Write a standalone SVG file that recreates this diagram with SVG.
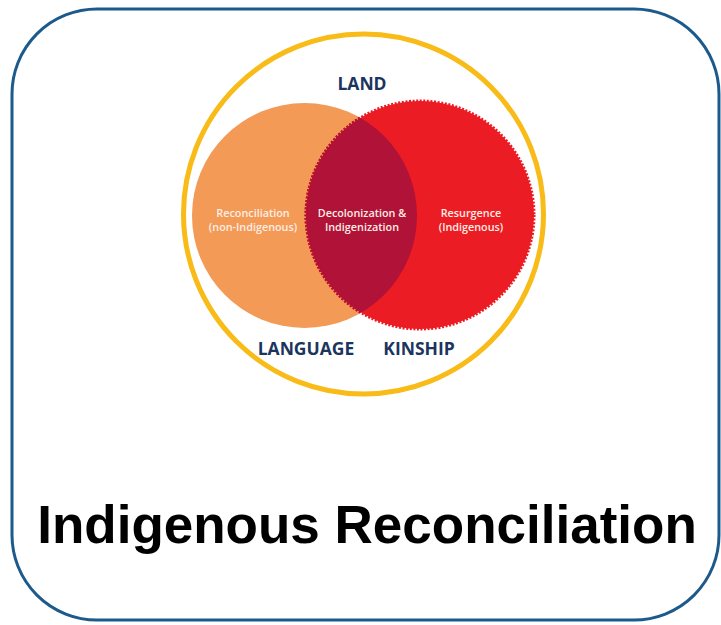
<svg xmlns="http://www.w3.org/2000/svg" width="721" height="625" viewBox="0 0 721 625">
<style>
.lab{font-family:"Open Sans","Liberation Sans",sans-serif;font-weight:700;fill:#1b355e;text-anchor:middle;font-size:17.5px}
.in{font-family:"Open Sans","Liberation Sans",sans-serif;font-weight:600;fill:#fdeee6;text-anchor:middle;font-size:10.8px}
.title{font-family:"Liberation Sans",Arial,sans-serif;font-weight:700;fill:#000;text-anchor:middle;font-size:53px}
</style>
<defs>
<clipPath id="orangeClip"><circle cx="304.5" cy="215.5" r="112.5"/></clipPath>
</defs>
<rect x="12" y="9" width="707" height="611" rx="85" ry="85" fill="#fff" stroke="#1d5a8c" stroke-width="3"/>
<g id="land">
<circle cx="363.5" cy="214" r="180" fill="#fff" stroke="#f8bb17" stroke-width="5"/>
</g>
<g id="reconciliation">
<circle cx="304.5" cy="215.5" r="112.5" fill="#f39a57"/>
</g>
<g id="resurgence">
<circle cx="420" cy="215" r="114" fill="#ec1c24" stroke="#ec1c24" stroke-width="3" stroke-dasharray="2 1.6"/>
</g>
<g id="overlap">
<circle cx="420" cy="215" r="114" fill="#b11237" clip-path="url(#orangeClip)"/>
<circle cx="420" cy="215" r="114" fill="none" stroke="#b11237" stroke-width="3" stroke-dasharray="2 1.6" clip-path="url(#orangeClip)"/>
</g>
<g id="labels">
<text class="lab" x="362" y="90">LAND</text>
<text class="lab" x="306" y="355">LANGUAGE</text>
<text class="lab" x="419" y="355">KINSHIP</text>
<text class="in" x="253" y="217">Reconciliation</text>
<text class="in" x="253" y="231">(non-Indigenous)</text>
<text class="in" x="362" y="217">Decolonization &amp;</text>
<text class="in" x="362" y="231">Indigenization</text>
<text class="in" x="471" y="217">Resurgence</text>
<text class="in" x="471" y="231">(Indigenous)</text>
</g>
<text class="title" x="367" y="543">Indigenous Reconciliation</text>
</svg>
